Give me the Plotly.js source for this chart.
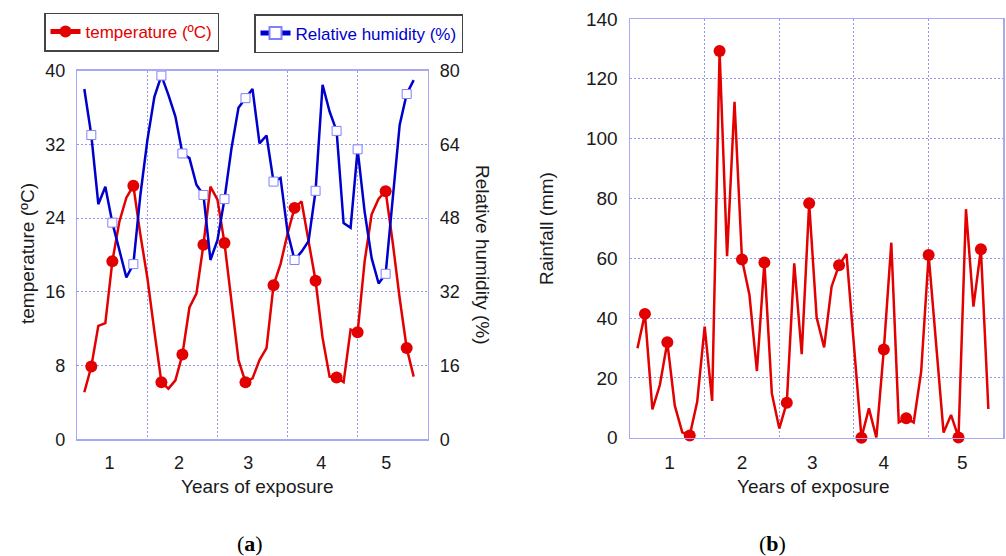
<!DOCTYPE html>
<html><head><meta charset="utf-8">
<script src="https://cdn.plot.ly/plotly-3.0.1.min.js"></script>
<style>html,body{margin:0;padding:0;background:#fff}#chart{width:1006px;height:556px}</style>
</head><body><div id="chart"></div><script>
// ---- data ----
const monthIndex = [1,2,3,4,5,6,7,8,9,10,11,12,13,14,15,16,17,18,19,20,21,22,23,24,
                    25,26,27,28,29,30,31,32,33,34,35,36,37,38,39,40,41,42,43,44,45,46,47,48];
const markedPoints = [2,5,8,12,15,18,21,24,28,31,34,37,40,44,47];
const yearLabels = ['1','2','3','4','5'];
const temperature = [5.1,7.9,12.3,12.6,19.3,23.6,26.2,27.5,22.2,17.5,
                     11.7,6.2,5.5,6.4,9.2,14.3,15.8,21.1,27.4,26.0,
                     21.3,14.6,8.6,6.2,6.6,8.6,9.9,16.7,19.0,22.3,
                     25.1,25.8,21.6,17.2,11.0,6.8,6.7,6.2,11.9,11.6,
                     19.3,24.4,26.1,26.9,21.4,15.3,9.9,6.8];
const humidity = [76.0,66.0,51.0,54.8,47.0,41.1,35.1,38.0,53.0,64.9,
                  74.3,78.9,74.7,70.0,62.0,61.0,55.2,53.0,38.9,43.2,
                  52.1,63.1,71.9,74.0,76.0,64.2,65.9,55.9,56.7,45.0,
                  38.9,40.7,43.0,53.9,76.9,71.1,66.9,46.9,45.9,62.9,
                  49.4,39.3,33.8,35.9,52.3,68.2,74.9,77.9];
const rainfall = [29.9,41.4,9.5,17.6,31.9,10.7,1.8,0.7,12.0,37.1,
                  12.3,129.3,60.7,112.3,59.6,47.7,22.3,58.6,14.8,3.1,
                  11.7,58.3,27.9,78.4,40.2,30.2,50.5,57.7,61.4,30.0,
                  0.0,9.8,0.0,29.5,65.2,5.1,6.5,5.1,22.1,61.1,
                  32.7,1.7,7.6,0.1,76.4,43.8,63.0,9.6];

// ---- styling ----
const W = 1006, H = 556;
const px = v => v / W, py = v => 1 - v / H;
const RED = '#e30000', BLUE = '#0000cc';
const FONT = 'Liberation Sans, Arial, sans-serif';
const isMarked = monthIndex.map(m => markedPoints.includes(m));
const sizes = s => isMarked.map(b => b ? s : 0);

const axisBase = {
  showline: true, linecolor: 'rgb(168,168,245)', linewidth: 1.5,
  gridcolor: 'rgb(150,150,240)', griddash: '2px,2px', gridwidth: 1,
  zeroline: false, ticks: 'outside', ticklen: 7, tickcolor: 'rgba(0,0,0,0)',
  tickfont: {family: FONT, size: 18, color: '#1a1a1a'}, fixedrange: true
};
const tickfontR = {family: FONT, size: 19, color: '#1a1a1a'};
const minorGrid = {tickvals: [10,20,30,40], showgrid: true, gridcolor: 'rgb(150,150,240)',
                   griddash: '2px,2px', gridwidth: 1, ticks: ''};

const traces = [
  {x: monthIndex, y: temperature, xaxis: 'x', yaxis: 'y', mode: 'lines+markers',
   name: 'temperature (ºC)', legend: 'legend', cliponaxis: false,
   line: {color: RED, width: 2.5},
   marker: {symbol: 'circle', size: sizes(12), color: RED, opacity: 1, line: {width: 0}}},
  {x: monthIndex, y: humidity, xaxis: 'x', yaxis: 'y2', mode: 'lines+markers',
   name: 'Relative humidity (%)', legend: 'legend2', cliponaxis: false,
   line: {color: BLUE, width: 2.5},
   marker: {symbol: 'square', size: sizes(9), color: 'white', opacity: 1,
            line: {color: '#7f7fff', width: sizes(1)}}},
  {x: monthIndex, y: rainfall, xaxis: 'x2', yaxis: 'y3', mode: 'lines+markers',
   showlegend: false, cliponaxis: false,
   line: {color: RED, width: 2.5},
   marker: {symbol: 'circle', size: sizes(12), color: RED, opacity: 1, line: {width: 0}}}
];

const annFont = {family: FONT, size: 19, color: '#1a1a1a'};
const ann = (text, x, y, extra) => Object.assign({text, x: px(x), y: py(y), xref: 'paper', yref: 'paper',
  xanchor: 'center', yanchor: 'middle', showarrow: false, font: annFont}, extra || {});
const serif = {family: 'Liberation Serif, Times New Roman, serif', size: 22, color: '#000'};
const layout = {
  width: W, height: H, margin: {l: 0, r: 0, t: 0, b: 0, autoexpand: false},
  paper_bgcolor: 'white', plot_bgcolor: 'white',
  xaxis: Object.assign({}, axisBase, {domain: [px(77.3), px(427.7)], anchor: 'y', range: [0, 50],
    tickvals: [4.6, 14.5, 24.4, 34.8, 44.1], ticktext: yearLabels, showgrid: false, mirror: true,
    minor: minorGrid}),
  yaxis: Object.assign({}, axisBase, {domain: [py(439.3), py(70.5)], anchor: 'x', range: [0, 40],
    tick0: 0, dtick: 8, showgrid: true}),
  yaxis2: Object.assign({}, axisBase, {overlaying: 'y', side: 'right', anchor: 'x', range: [0, 80],
    tick0: 0, dtick: 16, showgrid: false}),
  xaxis2: Object.assign({}, axisBase, {domain: [px(630), px(1003.3)], anchor: 'y3', range: [0, 50],
    tickvals: [5.3, 15.0, 24.4, 34.0, 44.5], ticktext: yearLabels, showgrid: false, mirror: true,
    minor: minorGrid, tickfont: tickfontR}),
  yaxis3: Object.assign({}, axisBase, {domain: [py(437.7), py(19)], anchor: 'x2', range: [0, 140],
    tick0: 0, dtick: 20, showgrid: true, mirror: true, tickfont: tickfontR}),
  legend: {x: px(44), y: py(12.5), xanchor: 'left', yanchor: 'top', bgcolor: 'white',
    bordercolor: '#444', borderwidth: 1.5, itemsizing: 'constant',
    font: {family: FONT, size: 17, color: RED}},
  legend2: {x: px(254), y: py(14), xanchor: 'left', yanchor: 'top', bgcolor: 'white',
    bordercolor: '#444', borderwidth: 1.5, itemsizing: 'constant',
    font: {family: FONT, size: 17, color: BLUE}},
  annotations: [
    ann('temperature (ºC)', 27, 254, {textangle: -90}),
    ann('Relative humidity (%)', 483, 255, {textangle: 90}),
    ann('Rainfall (mm)', 546, 229, {textangle: -90}),
    ann('Years of exposure', 257, 486),
    ann('Years of exposure', 813, 486),
    ann('(<b>a</b>)', 250, 543, {font: serif}),
    ann('(<b>b</b>)', 772, 543, {font: serif})
  ]
};
Plotly.newPlot('chart', traces, layout, {displayModeBar: false, staticPlot: true});
</script></body></html>
